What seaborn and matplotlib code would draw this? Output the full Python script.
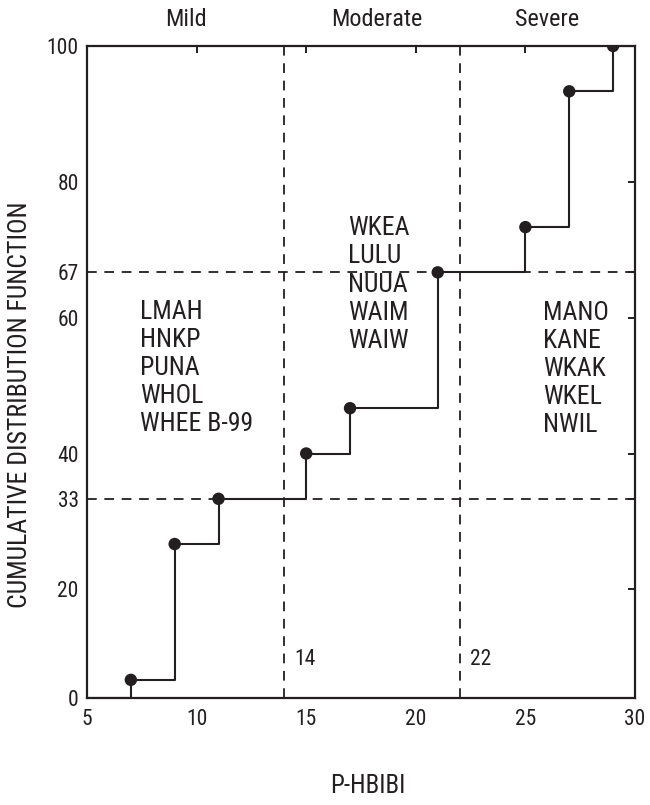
import numpy as np
import matplotlib
matplotlib.use('Agg')
import matplotlib.pyplot as plt
import matplotlib.transforms as mtransforms
import seaborn as sns

# ---------------- data ----------------
step_scores = [5, 7, 9, 11, 15, 17, 21, 25, 27, 29, 30]
step_cdf = [0, 6.67, 26.67, 33.33, 40, 46.67, 66.67, 73.33, 93.33, 100, 100]
point_scores = [7, 9, 11, 15, 17, 21, 25, 27, 29]
point_cdf = [6.67, 26.67, 33.33, 40, 46.67, 66.67, 73.33, 93.33, 100]
x_ticks = [5, 10, 15, 20, 25, 30]
y_ticks = [0, 20, 33.33, 40, 60, 66.67, 80, 100]
y_tick_labels = ['0', '20', '33', '40', '60', '67', '80', '100']
thresholds = [14, 22]
threshold_labels = ['14', '22']
tercile_cuts = [33.33, 66.67]
classes = ['Mild', 'Moderate', 'Severe']
class_centers = [9.5, 18.2, 26]
mild_sites = ['LMAH', 'HNKP', 'PUNA', 'WHOL', 'WHEE B-99']
moderate_sites = ['WKEA', 'LULU', 'NUUA', 'WAIM', 'WAIW']
severe_sites = ['MANO', 'KANE', 'WKAK', 'WKEL', 'NWIL']

# ---------------- style ----------------
sns.set_style('white')
plt.rcParams['font.family'] = ['Roboto Condensed', 'DejaVu Sans Condensed',
                               'Liberation Sans Narrow', 'Roboto']
plt.rcParams['font.stretch'] = 'condensed'
plt.rcParams['font.weight'] = 'normal'
plt.rcParams['lines.scale_dashes'] = False
INK = '#231f20'

fig = plt.figure(figsize=(6.5, 8.05), dpi=100)
ax = fig.add_axes([87 / 650, 1 - 698 / 805, 548 / 650, 652 / 805])

# compressed bottom segment of the y axis (0 .. 6.67)
A, B = 6.667, 4.0
def fwd(y):
    y = np.asarray(y, dtype=float)
    return np.where(y < A, B + y * (A - B) / A, y)
def inv(z):
    z = np.asarray(z, dtype=float)
    return np.where(z < A, (z - B) * A / (A - B), z)
ax.set_yscale('function', functions=(fwd, inv))

# reference lines
for t in thresholds:
    ax.axvline(t, color=INK, lw=1.3, ls=(0, (7, 5.5)), zorder=1)
for c in tercile_cuts:
    ax.axhline(c, color=INK, lw=1.3, ls=(0, (7, 5.5)), zorder=1)

# step CDF and points
sns.lineplot(x=step_scores, y=step_cdf, drawstyle='steps-post', color=INK,
             lw=1.5, estimator=None, sort=False, ax=ax, zorder=2)
sns.scatterplot(x=point_scores, y=point_cdf, s=80, color=INK,
                edgecolor='none', ax=ax, zorder=3)

ax.set_xlim(5, 30)
ax.set_ylim(0, 100)
ax.set_xticks(x_ticks)
ax.set_xticklabels([str(v) for v in x_ticks])
ax.set_yticks(y_ticks)
ax.set_yticklabels(y_tick_labels)
ax.tick_params(axis='both', direction='in', length=5, width=1.4, colors=INK,
               labelsize=15.5, top=True, right=True)
ax.tick_params(axis='x', pad=8)
ax.tick_params(axis='y', pad=6)
for sp in ax.spines.values():
    sp.set_visible(True)
    sp.set_color(INK)
    sp.set_linewidth(1.6)
ax.set_xlabel('')
ax.set_ylabel('')

# class names above the axes
trans = mtransforms.blended_transform_factory(ax.transData, ax.transAxes)
for name, cx in zip(classes, class_centers):
    ax.text(cx, 1.04, name, transform=trans, ha='center', va='center',
            fontsize=17.5, color=INK)

# threshold values
for t, lab in zip(thresholds, threshold_labels):
    ax.text(t + 0.45, 9.6, lab, ha='left', va='center', fontsize=15.5, color=INK)

# site lists
line_step = 28 / 6.79
for sites, x0, y0 in [(mild_sites, 7.42, 59.8),
                      (moderate_sites, 16.9, 72.1),
                      (severe_sites, 25.8, 59.6)]:
    for i, s in enumerate(sites):
        ax.text(x0, y0 - i * line_step, s, ha='left', va='baseline',
                fontsize=18.5, color=INK)

fig.text(20 / 650, 1 - 405 / 805, 'CUMULATIVE DISTRIBUTION FUNCTION',
         rotation=90, ha='center', va='center', fontsize=18.5, color=INK)
fig.text(368 / 650, 1 - 786 / 805, 'P-HBIBI', ha='center', va='center',
         fontsize=18, color=INK)

fig.savefig('out.png', dpi=100)
